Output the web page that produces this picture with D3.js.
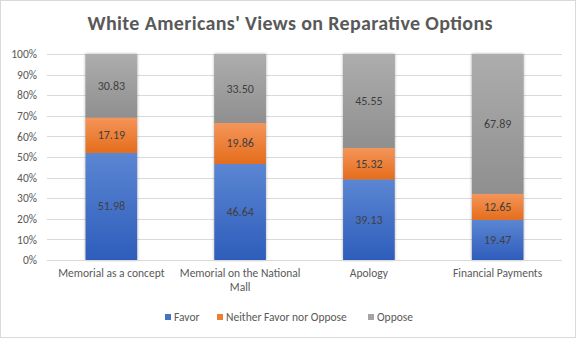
<!DOCTYPE html>
<html>
<head>
<meta charset="utf-8">
<script src="https://cdn.jsdelivr.net/npm/d3@7/dist/d3.min.js"></script>
<style>
  html, body { margin: 0; padding: 0; background: #fff; }
  svg { display: block; font-family: Calibri, Carlito, "Open Sans", "Liberation Sans", sans-serif; }
</style>
</head>
<body>
<svg id="chart" width="577" height="339"></svg>
<script>
// Survey results: share of respondents (percent) per reparative option
const categories = ["Memorial as a concept", "Memorial on the National Mall", "Apology", "Financial Payments"];
const favor   = [51.98, 46.64, 39.13, 19.47];
const neither = [17.19, 19.86, 15.32, 12.65];
const oppose  = [30.83, 33.50, 45.55, 67.89];
const seriesNames = ["Favor", "Neither Favor nor Oppose", "Oppose"];
const yTicks = [0, 10, 20, 30, 40, 50, 60, 70, 80, 90, 100];

const W = 577, H = 339;
const margin = { left: 47, right: 15, top: 54, bottom: 79 };
const svg = d3.select("#chart");

// Outer frame
svg.append("rect").attr("x", 0.5).attr("y", 0.5).attr("width", W - 2).attr("height", H - 2)
  .attr("fill", "#fff").attr("stroke", "#d9d9d9");

// Gradients for bar fills (lighter at top, darker at bottom)
const defs = svg.append("defs");
const palette = [
  { id: "gFavor", top: "#5b86d3", bottom: "#2e5dbb" },
  { id: "gNeither", top: "#f4955a", bottom: "#e56d1b" },
  { id: "gOppose", top: "#adadad", bottom: "#8f8f8f" }
];
palette.forEach(p => {
  const g = defs.append("linearGradient").attr("id", p.id)
    .attr("x1", 0).attr("y1", 0).attr("x2", 0).attr("y2", 1);
  g.append("stop").attr("offset", "0%").attr("stop-color", p.top);
  g.append("stop").attr("offset", "100%").attr("stop-color", p.bottom);
});
const shadow = defs.append("filter").attr("id", "shadow")
  .attr("x", "-20%").attr("y", "-5%").attr("width", "140%").attr("height", "110%");
shadow.append("feDropShadow").attr("dx", 0).attr("dy", 0).attr("stdDeviation", 1.6)
  .attr("flood-color", "#000").attr("flood-opacity", 0.35);

// Title
svg.append("text").attr("x", 290).attr("y", 30).attr("text-anchor", "middle")
  .attr("font-size", 20).attr("font-weight", "bold").attr("fill", "#595959")
  .attr("textLength", 405).attr("lengthAdjust", "spacing")
  .text("White Americans' Views on Reparative Options");

const x = d3.scaleBand().domain(categories)
  .range([margin.left, W - margin.right]).paddingInner(0.6).paddingOuter(0.3);
const y = d3.scaleLinear().domain([0, 100]).range([H - margin.bottom, margin.top]);

// Gridlines
svg.append("g").selectAll("line").data(yTicks.slice(1)).join("line")
  .attr("x1", margin.left).attr("x2", W - margin.right)
  .attr("y1", d => Math.round(y(d)) + 0.5).attr("y2", d => Math.round(y(d)) + 0.5)
  .attr("stroke", "#d9d9d9").attr("stroke-width", 1);

// Y axis labels
const yAxis = d3.axisLeft(y).tickValues(yTicks).tickFormat(d => d + "%").tickSize(0).tickPadding(10);
svg.append("g").attr("transform", `translate(${margin.left},0)`).call(yAxis)
  .call(g => g.select(".domain").remove())
  .call(g => g.selectAll("text").attr("fill", "#595959").attr("font-size", 11.5)
    .attr("font-family", "Calibri, Carlito, 'Open Sans', 'Liberation Sans', sans-serif"));

// Stacked data
const rows = categories.map((c, i) => ({ cat: c, Favor: favor[i], "Neither Favor nor Oppose": neither[i], Oppose: oppose[i] }));
const stack = d3.stack().keys(seriesNames)(rows);
const fills = ["url(#gFavor)", "url(#gNeither)", "url(#gOppose)"];

// Shadowed bar silhouettes
svg.append("g").selectAll("rect").data(rows).join("rect")
  .attr("x", d => x(d.cat)).attr("width", x.bandwidth())
  .attr("y", y(100)).attr("height", y(0) - y(100))
  .attr("fill", "#999").attr("filter", "url(#shadow)");

const layers = svg.append("g").selectAll("g").data(stack).join("g")
  .attr("fill", (d, i) => fills[i]);
layers.selectAll("rect").data(d => d).join("rect")
  .attr("x", d => x(d.data.cat)).attr("width", x.bandwidth())
  .attr("y", d => y(d[1])).attr("height", d => y(d[0]) - y(d[1]));

// Value labels
layers.selectAll("text").data(d => d).join("text")
  .attr("x", d => x(d.data.cat) + x.bandwidth() / 2)
  .attr("y", d => (y(d[0]) + y(d[1])) / 2 + 4)
  .attr("text-anchor", "middle").attr("font-size", 12).attr("fill", "#404040")
  .text(d => (d[1] - d[0]).toFixed(2));

// X axis baseline
svg.append("line").attr("x1", margin.left).attr("x2", W - margin.right)
  .attr("y1", Math.round(y(0)) + 0.5).attr("y2", Math.round(y(0)) + 0.5)
  .attr("stroke", "#d9d9d9");

// Category labels (wrapped to the band step)
const xLabel = svg.append("g");
categories.forEach(c => {
  const cx = x(c) + x.bandwidth() / 2;
  const lines = c === "Memorial on the National Mall" ? ["Memorial on the National", "Mall"] : [c];
  const t = xLabel.append("text").attr("x", cx).attr("y", y(0) + 17)
    .attr("text-anchor", "middle").attr("font-size", 11.5).attr("fill", "#595959");
  lines.forEach((l, i) => t.append("tspan").attr("x", cx).attr("dy", i === 0 ? 0 : 14).text(l));
});

// Legend
const legendColors = ["#4472c4", "#ed7d31", "#a5a5a5"];
const legend = svg.append("g");
const legendX = [165, 217, 368];
seriesNames.forEach((s, i) => {
  legend.append("rect").attr("x", legendX[i]).attr("y", 314).attr("width", 6).attr("height", 6)
    .attr("fill", legendColors[i]);
  legend.append("text").attr("x", legendX[i] + 9).attr("y", 321)
    .attr("font-size", 11.5).attr("fill", "#595959").text(s);
});
</script>
</body>
</html>
